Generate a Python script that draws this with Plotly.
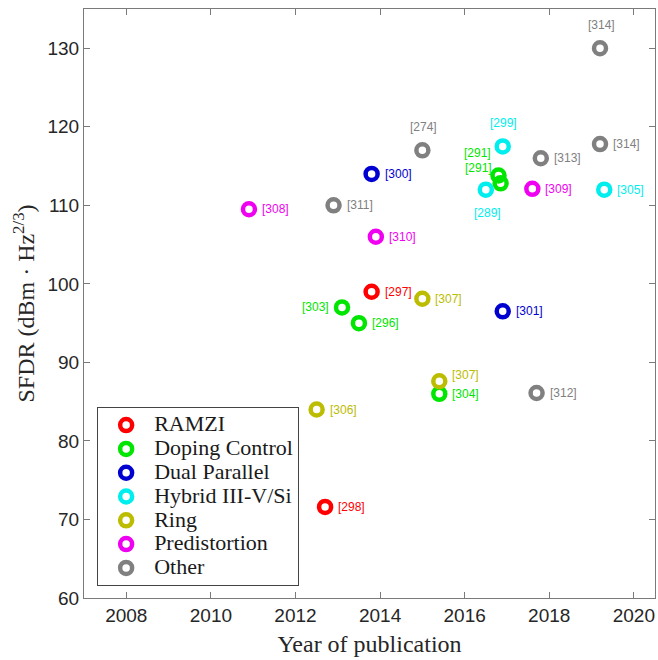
import plotly.graph_objects as go

# ---------------- data ----------------
categories = ["RAMZI", "Doping Control", "Dual Parallel", "Hybrid III-V/Si",
              "Ring", "Predistortion", "Other"]

ramzi_year = [2013.8, 2012.7]
ramzi_sfdr = [99.0, 71.6]
ramzi_ref = ["[297]", "[298]"]

doping_year = [2013.1, 2013.5, 2015.4, 2016.8, 2016.85]
doping_sfdr = [97.0, 95.0, 86.0, 113.8, 112.8]
doping_ref = ["[303]", "[296]", "[304]", "[291]", "[291]"]

dual_year = [2013.8, 2016.9]
dual_sfdr = [114.0, 96.5]
dual_ref = ["[300]", "[301]"]

hybrid_year = [2016.9, 2016.5, 2019.3]
hybrid_sfdr = [117.5, 112.0, 112.0]
hybrid_ref = ["[299]", "[289]", "[305]"]

ring_year = [2015.0, 2015.4, 2012.5]
ring_sfdr = [98.1, 87.6, 84.0]
ring_ref = ["[307]", "[307]", "[306]"]

pred_year = [2010.9, 2013.9, 2017.6]
pred_sfdr = [109.5, 106.0, 112.1]
pred_ref = ["[308]", "[310]", "[309]"]

other_year = [2012.9, 2015.0, 2017.8, 2019.2, 2019.2, 2017.7]
other_sfdr = [110.0, 117.0, 116.0, 130.0, 117.8, 86.1]
other_ref = ["[311]", "[274]", "[313]", "[314]", "[314]", "[312]"]

x_ticks = [2008, 2010, 2012, 2014, 2016, 2018, 2020]
y_ticks = [60, 70, 80, 90, 100, 110, 120, 130]

# ---------------- styles ----------------
colors = ["#ff0000", "#00e600", "#0000d0", "#00eeee", "#bcbc00", "#f000f0", "#808080"]

# label placement codes per point
ramzi_pos = ["r", "r"]
doping_pos = ["l", "r", "r", "tl1", "tl2"]
dual_pos = ["r", "r"]
hybrid_pos = ["t", "b", "r"]
ring_pos = ["r", "ru", "r"]
pred_pos = ["r", "r", "r"]
other_pos = ["r", "t", "r", "t", "r", "r"]

placement = {
    "r": dict(xanchor="left", yanchor="middle", xshift=11, yshift=0),
    "ru": dict(xanchor="left", yanchor="middle", xshift=11, yshift=6),
    "l": dict(xanchor="right", yanchor="middle", xshift=-11, yshift=0),
    "t": dict(xanchor="center", yanchor="bottom", xshift=1, yshift=14),
    "b": dict(xanchor="center", yanchor="top", xshift=2, yshift=-14),
    "tl1": dict(xanchor="right", yanchor="middle", xshift=-6, yshift=22),
    "tl2": dict(xanchor="right", yanchor="middle", xshift=-7, yshift=15),
}

series = [
    (ramzi_year, ramzi_sfdr, ramzi_ref, ramzi_pos),
    (doping_year, doping_sfdr, doping_ref, doping_pos),
    (dual_year, dual_sfdr, dual_ref, dual_pos),
    (hybrid_year, hybrid_sfdr, hybrid_ref, hybrid_pos),
    (ring_year, ring_sfdr, ring_ref, ring_pos),
    (pred_year, pred_sfdr, pred_ref, pred_pos),
    (other_year, other_sfdr, other_ref, other_pos),
]

fig = go.Figure()
annotations = []
for name, color, (xs, ys, refs, poss) in zip(categories, colors, series):
    fig.add_trace(go.Scatter(
        x=xs, y=ys, mode="markers",
        name="<span style='font-size:22px'>" + name + "</span>",
        marker=dict(symbol="circle-open", size=12, color=color,
                    line=dict(width=4.5, color=color)),
        hoverinfo="x+y+text", text=refs,
    ))
    for x, y, ref, p in zip(xs, ys, refs, poss):
        annotations.append(dict(
            x=x, y=y, xref="x", yref="y", text=ref, showarrow=False,
            font=dict(family="Liberation Sans, Arial, sans-serif", size=12, color=color),
            **placement[p]))

axis_common = dict(
    showline=True, linecolor="#7a7a7a", linewidth=1, mirror="ticks",
    ticks="inside", ticklen=6, tickcolor="#7a7a7a", tickwidth=1,
    showgrid=False, zeroline=False,
    tickfont=dict(family="Liberation Sans, Arial, sans-serif", size=19, color="#262626"),
)

fig.update_layout(
    width=658, height=660,
    margin=dict(l=84, r=3, t=9, b=62),
    paper_bgcolor="white", plot_bgcolor="white",
    annotations=annotations,
    xaxis=dict(range=[2007, 2020.5], tickvals=x_ticks,
               title=dict(text="Year of publication", standoff=10,
                          font=dict(family="Liberation Serif, serif", size=24, color="#262626")),
               automargin=False, **axis_common),
    yaxis=dict(range=[60, 135], tickvals=y_ticks,
               title=dict(text="SFDR (dBm · Hz<sup>2/3</sup>)", standoff=6,
                          font=dict(family="Liberation Serif, serif", size=24, color="#262626")),
               automargin=False, **axis_common),
    legend=dict(
        x=0.023, y=0.02, xanchor="left", yanchor="bottom",
        bgcolor="white", bordercolor="#444444", borderwidth=1,
        font=dict(family="Liberation Serif, serif", size=16, color="#1a1a1a"),
        itemwidth=46,
    ),
    showlegend=True,
)

fig.write_html("out.html", config={"displayModeBar": False},
               post_script="document.body.style.margin='0';")
